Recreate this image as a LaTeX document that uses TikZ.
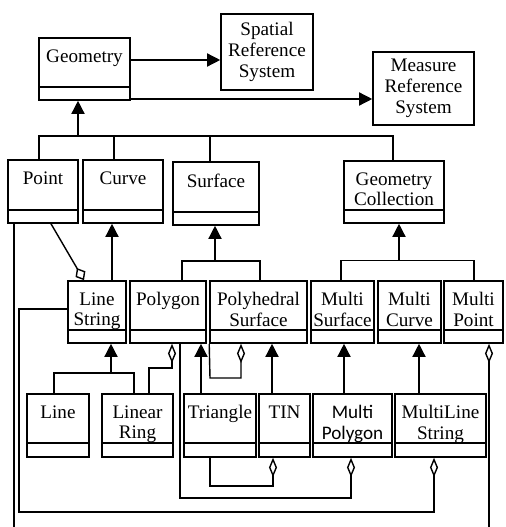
\documentclass[tikz,border=0pt]{standalone}
\usepackage{fontspec}
\setmainfont{Liberation Serif}
\newfontfamily\calibri{Carlito}
\usetikzlibrary{arrows.meta,fit,calc}

\tikzset{
  classbox/.style={draw, line width=0.9pt, inner sep=0pt},
  classname/.style={anchor=north, inner sep=0pt, align=center, font=\fontsize{10.9}{11.8}\selectfont},
  refbox/.style={draw, line width=0.9pt, inner sep=0pt},
  reftext/.style={inner sep=0pt, align=center, font=\fontsize{10.9}{11.8}\selectfont},
  link/.style={line width=0.8pt},
  gen/.style={link, -{Triangle[length=7.5pt,width=7.5pt]}},
  agg/.style={link, -{Diamond[open,length=11pt,width=4.6pt]}},
  aggsmall/.style={link, -{Diamond[open,length=8pt,width=6.5pt]}},
}

% class box: name, x1, y1, x2, y2, divider, label
\newcommand{\umlclass}[7]{%
  \node[classbox, fit={(#2,#3) (#4,#5)}] (#1) {};
  \draw[line width=0.9pt] (#2,#6) -- (#4,#6);
  \node[classname] (#1-t) at ($(#1.north)+(0,12)$) {#7};
}

\begin{document}
\begin{tikzpicture}[x=0.02cm, y=-0.02cm]
  \useasboundingbox (0,0) rectangle (505,527);

  % reference systems
  \node[refbox, fit={(221,14) (313,90)}] (srs) {};
  \node[reftext] (srs-t) at (srs.center) {Spatial\\Reference\\System};
  \node[refbox, fit={(373,52) (474,125)}] (mrs) {};
  \node[reftext] (mrs-t) at (mrs.center) {Measure\\Reference\\System};

  % classes
  \umlclass{geom}{39}{38}{130}{100}{87}{Geometry}
  \umlclass{pt}{8}{160}{78}{223}{210}{Point}
  \umlclass{cv}{83}{160}{163}{223}{210}{Curve}
  \umlclass{sf}{173}{162}{259}{225}{212}{Surface}
  \umlclass{gc}{344}{161}{444}{223}{210}{Geometry\\Collection}
  \umlclass{ls}{68}{281}{126}{343}{330}{Line\\String}
  \umlclass{pg}{130}{281}{206}{343}{330}{Polygon}
  \umlclass{ph}{210}{281}{307}{343}{330}{Polyhedral\\Surface}
  \umlclass{ms}{311}{281}{374}{343}{330}{Multi\\Surface}
  \umlclass{mc}{378}{281}{441}{343}{330}{Multi\\Curve}
  \umlclass{mp}{444}{281}{503}{343}{330}{Multi\\Point}
  \umlclass{ln}{27}{394}{89}{457}{443}{Line}
  \umlclass{lr}{102}{394}{173}{457}{443}{Linear\\Ring}
  \umlclass{tr}{184}{394}{256}{457}{443}{Triangle}
  \umlclass{tin}{259}{394}{310}{457}{443}{TIN}
  \umlclass{mpg}{313}{394}{392}{457}{443}{\calibri Multi\\\calibri Polygon}
  \umlclass{mls}{395}{394}{486}{457}{443}{MultiLine\\String}

  \coordinate (cutL) at (14,527);
  \coordinate (cutR) at (489,527);

  % associations of Geometry
  \draw[gen] (geom.east |- 0,60) -- (srs.west |- 0,60);
  \draw[gen] (geom.south east |- 0,99) -- (mrs.west |- 0,99);

  % generalizations
  \draw[gen] (78,136) -- (geom.south -| 78,0);
  \draw[link] (pt.north -| 39,0) -- (39,136) -- (393,136) -- (gc.north -| 393,0);
  \draw[link] (cv.north -| 114,0) -- (114,136);
  \draw[link] (sf.north -| 210,0) -- (210,136);
  \draw[gen] (ls.north -| 112,0) -- (cv.south -| 112,0);
  \draw[gen] (215,261) -- (sf.south -| 215,0);
  \draw[link] (pg.north -| 182,0) -- (182,261) -| (ph.north -| 260,0);
  \draw[gen] (399,260.5) -- (gc.south -| 399,0);
  \draw[link] (ms.north -| 341,0) -- (341,260.5) -| (mp.north -| 474,0);
  \draw[gen] (111,373) -- (ls.south -| 111,0);
  \draw[link] (ln.north -| 54,0) |- (134,373) -- (lr.north -| 134,0);
  \draw[gen] (tr.north -| 201,0) -- (pg.south -| 201,0);
  \draw[gen] (tin.north -| 272,0) -- (ph.south -| 272,0);
  \draw[gen] (mpg.north -| 344,0) -- (ms.south -| 344,0);
  \draw[gen] (mls.north -| 419,0) -- (mc.south -| 419,0);

  % aggregations
  \draw[aggsmall] (pt.south -| 51,0) -- (ls.north -| 84,0);
  \draw[agg] (lr.north -| 149,0) |- (172,368) -- (pg.south -| 172,0);
  \draw[agg] (ph.south west) -- (210,378) -| (ph.south -| 241,0);
  \draw[agg] (pg.south -| 180,0) |- (351,498) -- (mpg.south -| 351,0);
  \draw[agg] (tr.south -| 210,0) |- (273,486) -- (tin.south -| 273,0);
  \draw[agg] (ls.west |- 0,309) -- (19,309) |- (434,512) -- (mls.south -| 434,0);
  \draw[agg] (cutR) -- (mp.south -| 489,0);
  \draw[link] (pt.south -| 14,0) -- (cutL);
\end{tikzpicture}
\end{document}
